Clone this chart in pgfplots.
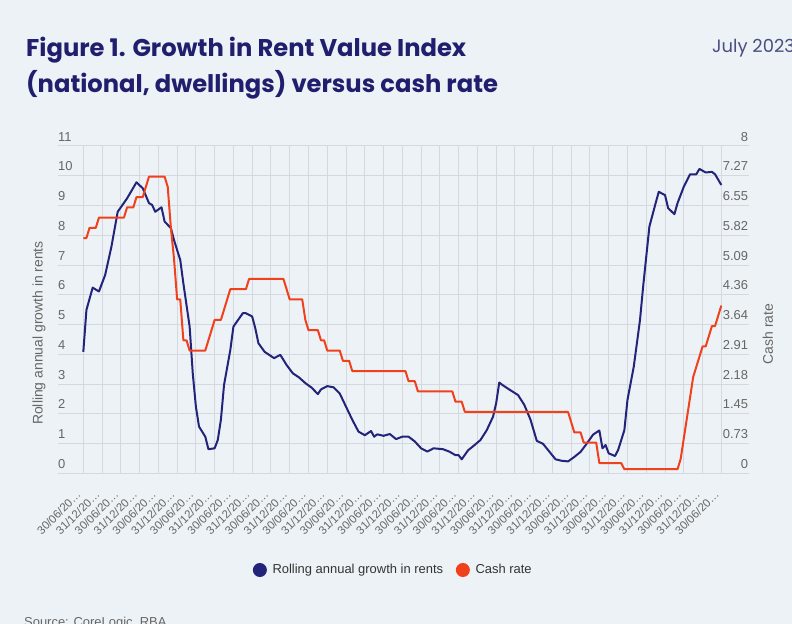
\documentclass[border=0pt]{standalone}
\usepackage{pgfplots}
\pgfplotsset{compat=1.18}
\usepackage{fontspec}
\setmainfont{Liberation Sans}
\newfontfamily\titlefont{Poppins}
\definecolor{bg}{HTML}{EDF2F6}
\definecolor{navy}{HTML}{211E6E}
\definecolor{rentblue}{HTML}{23237A}
\definecolor{cashred}{HTML}{F0401C}
\definecolor{gridc}{HTML}{D5D9DD}
\definecolor{ticktext}{HTML}{666666}
\definecolor{legtext}{HTML}{333333}
\definecolor{julyc}{HTML}{4A4F80}
\def\la{30/06/20…}
\def\lb{31/12/20…}
\begin{document}
\begin{tikzpicture}
\path[use as bounding box, fill=bg] (0bp,0bp) rectangle (792bp,624bp);
\node[anchor=base west, inner sep=0pt, text=navy, font=\titlefont\bfseries\fontsize{24.3}{24.3}\selectfont] at (26bp,567bp) {Figure 1. Growth in Rent Value Index};
\node[anchor=base west, inner sep=0pt, text=navy, font=\titlefont\bfseries\fontsize{24.3}{24.3}\selectfont] at (26bp,531bp) {(national, dwellings) versus cash rate};
\node[anchor=base west, inner sep=0pt, text=julyc, font=\titlefont\fontsize{18}{18}\selectfont] at (712bp,571bp) {July 2023};
\node[anchor=base west, inner sep=0pt, text=ticktext, font=\fontsize{13}{13}\selectfont] at (24bp,-2bp) {Source: CoreLogic, RBA};
\node[rotate=90, inner sep=0pt, text=ticktext, font=\fontsize{14}{14}\selectfont] at (39bp,291bp) {Rolling annual growth in rents};
\node[rotate=90, inner sep=0pt, text=ticktext, font=\fontsize{14}{14}\selectfont] at (768bp,290bp) {Cash rate};

\begin{axis}[
  at={(58bp,150.7bp)}, anchor=south west, scale only axis,
  width=691.3bp, height=327.3bp,
  xmin=-8.09, xmax=212.95, ymin=0, ymax=11,
  axis line style={draw=none}, tick style={draw=none},
  xmajorgrids, ymajorgrids,
  major grid style={gridc, line width=1bp},
  xtick={0,6,...,204},
  xticklabels={\la,\lb,\la,\lb,\la,\lb,\la,\lb,\la,\lb,\la,\lb,\la,\lb,\la,\lb,\la,\lb,\la,\lb,\la,\lb,\la,\lb,\la,\lb,\la,\lb,\la,\lb,\la,\lb,\la,\lb,\la},
  ytick={0,1,...,11},
  /pgf/number format/assume math mode=true,
  yticklabel style={anchor=south west, inner sep=0pt, yshift=4.6bp, font=\fontsize{13}{13}\selectfont, text=ticktext},
  xticklabel style={rotate=45, anchor=north east, inner sep=0pt, xshift=-16.9bp, yshift=-6.2bp, font=\fontsize{11.5}{11.5}\selectfont, text=ticktext},
  clip=false,
]
\addplot[rentblue, line width=2bp, line join=round] coordinates {
(0,4.08)(1,5.49)(3,6.24)(5,6.11)(7,6.67)(9,7.62)(11,8.79)(14,9.24)(17,9.78)(19,9.58)
(21,9.08)(22,9.02)(23,8.79)(25,8.94)(26,8.46)(28,8.24)(29,7.84)(31,7.17)(32,6.38)(34,4.93)
(35,3.36)(36,2.24)(37,1.57)(39,1.23)(40,0.81)(42,0.84)(43,1.12)(44,1.80)(45,2.97)(47,4.14)
(48,4.93)(51,5.38)(52,5.38)(54,5.27)(55,4.87)(56,4.37)(58,4.08)(61,3.87)(63,3.98)(65,3.64)
(67,3.36)(69,3.22)(71,3.03)(73,2.88)(75,2.66)(76,2.82)(78,2.93)(80,2.89)(82,2.68)(84,2.24)
(86,1.80)(88,1.40)(90,1.28)(92,1.42)(93,1.23)(94,1.31)(96,1.26)(98,1.32)(100,1.15)(102,1.23)
(104,1.23)(106,1.07)(108,0.84)(110,0.73)(112,0.84)(115,0.81)(117,0.73)(119,0.61)(120,0.61)(121,0.47)
(123,0.77)(125,0.94)(127,1.12)(129,1.45)(131,1.90)(132,2.35)(133,3.05)(134,2.97)(136,2.83)(139,2.63)
(141,2.30)(143,1.80)(145,1.09)(147,0.99)(149,0.73)(151,0.47)(153,0.42)(155,0.40)(157,0.55)(159,0.72)
(161,1.00)(163,1.30)(165,1.44)(166,0.84)(167,0.95)(168,0.67)(170,0.58)(171,0.78)(173,1.45)(174,2.47)
(176,3.58)(178,5.15)(179,6.27)(180,7.28)(181,8.29)(183,9.08)(184,9.46)(186,9.35)(187,8.91)(189,8.71)
(190,9.08)(192,9.63)(194,10.05)(196,10.05)(197,10.23)(199,10.11)(201,10.13)(202,10.05)(204,9.69)
};
\end{axis}

\begin{axis}[
  at={(58bp,150.7bp)}, anchor=south west, scale only axis,
  width=691.3bp, height=327.3bp,
  xmin=-8.09, xmax=212.95, ymin=0, ymax=8,
  axis line style={draw=none}, tick style={draw=none},
  xtick=\empty,
  ytick={0,0.72727,1.45455,2.18182,2.90909,3.63636,4.36364,5.09091,5.81818,6.54545,7.27273,8},
  yticklabels={0,0.73,1.45,2.18,2.91,3.64,4.36,5.09,5.82,6.55,7.27,8},
  yticklabel pos=right,
  yticklabel style={anchor=south east, inner sep=0pt, xshift=-1bp, yshift=4.6bp, font=\fontsize{13}{13}\selectfont, text=ticktext},
  legend style={at={(0.485,-0.2955)}, anchor=center, draw=none, fill=none, legend columns=2,
    font=\fontsize{13}{13}\selectfont, text=legtext,
    /tikz/every even column/.append style={column sep=10.7bp}},
  legend cell align=left,
  legend image code/.code={\fill[#1, draw=none] (0bp,0bp) circle (7bp); \path[draw=none, fill=none] (-7bp,0bp) rectangle (10.7bp,0.1bp);},
  clip=false,
]
\addlegendimage{rentblue}
\addlegendentry{Rolling annual growth in rents}
\addlegendimage{cashred}
\addlegendentry{Cash rate}
\addplot[cashred, line width=2bp, line join=round, forget plot] coordinates {
(0,5.75)(1,5.75)(2,6.0)(4,6.0)(5,6.25)(13,6.25)(14,6.5)(16,6.5)(17,6.75)(19,6.75)
(20,7.0)(21,7.25)(26,7.25)(27,7.0)(28,6.0)(29,5.25)(30,4.25)(31,4.25)(32,3.25)(33,3.25)
(34,3.0)(39,3.0)(40,3.25)(41,3.5)(42,3.75)(44,3.75)(45,4.0)(46,4.25)(47,4.5)(52,4.5)
(53,4.75)(64,4.75)(65,4.5)(66,4.25)(70,4.25)(71,3.75)(72,3.5)(75,3.5)(76,3.25)(77,3.25)
(78,3.0)(82,3.0)(83,2.75)(85,2.75)(86,2.5)(103,2.5)(104,2.25)(106,2.25)(107,2.0)(118,2.0)
(119,1.75)(121,1.75)(122,1.5)(155,1.5)(156,1.25)(157,1.0)(159,1.0)(160,0.75)(164,0.75)(165,0.25)
(172,0.25)(173,0.1)(190,0.1)(191,0.35)(192,0.85)(193,1.35)(194,1.85)(195,2.35)(196,2.6)(197,2.85)
(198,3.1)(199,3.1)(200,3.35)(201,3.6)(202,3.6)(203,3.85)(204,4.1)
};
\end{axis}
\end{tikzpicture}
\end{document}
